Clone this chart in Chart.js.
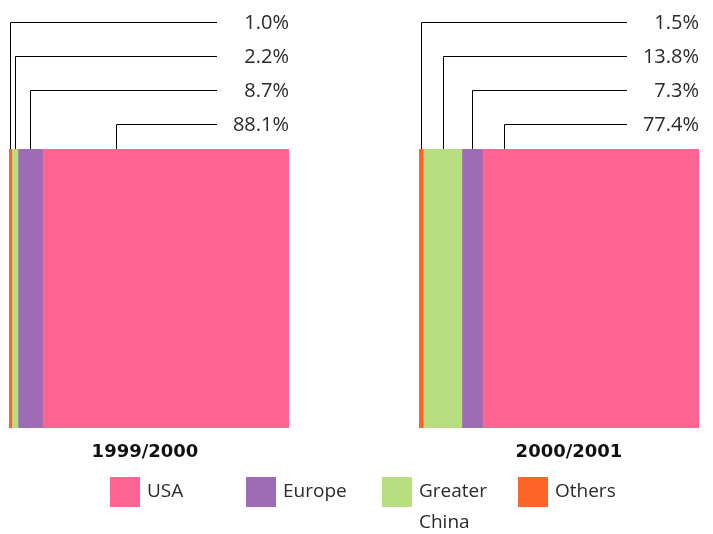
<!DOCTYPE html>
<html>
<head>
<meta charset="utf-8">
<script src="https://cdn.jsdelivr.net/npm/chart.js@4"></script>
<style>
  body { margin: 0; background: #fff; }
  #wrap { position: relative; width: 713px; height: 534px; }
  canvas { position: absolute; left: 0; top: 0; }
  .item { position: absolute; top: 477px; font-family: "Open Sans", sans-serif; font-weight: 400;
          font-size: 19px; color: #2a2a2a; line-height: 31px; }
  .item .box { position: absolute; left: 0; top: 0; width: 30px; height: 30px; }
  .item .txt { position: absolute; left: 37px; top: -2px; white-space: nowrap; }
</style>
</head>
<body>
<div id="wrap">
  <canvas id="c1" width="713" height="534"></canvas>
  <canvas id="c2" width="713" height="534"></canvas>
  <div id="legend"></div>
</div>
<script>
// stack order left to right
var regions = ['Others', 'Greater China', 'Europe', 'USA'];
var colors = ['#FF6529', '#B7DF7F', '#9E6BB5', '#FE6592'];
var years = ['1999/2000', '2000/2001'];
var share9900 = [1.0, 2.2, 8.7, 88.1];
var share0001 = [1.5, 13.8, 7.3, 77.4];

var leaderPlugin = {
    id: 'leaders',
    afterDatasetsDraw: function (chart, args, opts) {
        var ctx = chart.ctx;
        var area = chart.chartArea;
        var xs = chart.scales.x;
        var sets = chart.data.datasets;
        var start = 0;
        ctx.save();
        ctx.strokeStyle = '#000';
        ctx.lineWidth = 1;
        ctx.fillStyle = '#2a2a2a';
        ctx.font = '20px "Open Sans"';
        ctx.textAlign = 'right';
        ctx.textBaseline = 'middle';
        for (var i = 0; i < sets.length; i++) {
            var v = sets[i].data[0];
            var x0 = xs.getPixelForValue(start);
            var x1 = xs.getPixelForValue(start + v);
            var lx = i < sets.length - 1 ? (x0 + x1) / 2 : x0 + (x1 - x0) * opts.lastFrac;
            lx = Math.round(lx) + 0.5;
            var ly = Math.round(area.top - 127 + i * 34) + 0.5;
            ctx.beginPath();
            ctx.moveTo(lx, area.top);
            ctx.lineTo(lx, ly);
            ctx.lineTo(area.right - 72, ly);
            ctx.stroke();
            ctx.fillText(v.toFixed(1) + '%', area.right, ly + 1);
            start += v;
        }
        // year title below the bar
        ctx.fillStyle = '#111';
        ctx.font = 'bold 18px "DejaVu Sans"';
        ctx.textAlign = 'center';
        ctx.textBaseline = 'alphabetic';
        ctx.fillText(chart.data.labels[0], (area.left + area.right) / 2 + opts.titleDx, 457);
        ctx.restore();
    }
};

function makeChart(id, year, values, padLeft, padRight, lastFrac, titleDx) {
    var datasets = regions.map(function (name, i) {
        return {
            label: name,
            data: [values[i]],
            backgroundColor: colors[i],
            borderWidth: 0,
            barPercentage: 1,
            categoryPercentage: 1
        };
    });
    return new Chart(document.getElementById(id), {
        type: 'bar',
        data: { labels: [year], datasets: datasets },
        options: {
            indexAxis: 'y',
            responsive: false,
            animation: false,
            layout: { padding: { left: padLeft, right: padRight, top: 149, bottom: 106 } },
            scales: {
                x: { stacked: true, min: 0, max: 100, display: false },
                y: { stacked: true, display: false }
            },
            plugins: {
                legend: { display: false },
                tooltip: { enabled: false },
                leaders: { lastFrac: lastFrac, titleDx: titleDx }
            }
        },
        plugins: [leaderPlugin]
    });
}

makeChart('c1', years[0], share9900, 9, 424, 0.30, -4);
makeChart('c2', years[1], share0001, 419, 14, 0.10, 10);

// legend, USA first
var legendLeft = [110, 246, 382, 518];
var legendText = ['USA', 'Europe', 'Greater<br>China', 'Others'];
var leg = document.getElementById('legend');
for (var k = 0; k < 4; k++) {
    var idx = regions.length - 1 - k;
    var d = document.createElement('div');
    d.className = 'item';
    d.style.left = legendLeft[k] + 'px';
    d.innerHTML = '<div class="box" style="background:' + colors[idx] + '"></div>' +
        '<div class="txt">' + legendText[k] + '</div>';
    leg.appendChild(d);
}
</script>
</body>
</html>
